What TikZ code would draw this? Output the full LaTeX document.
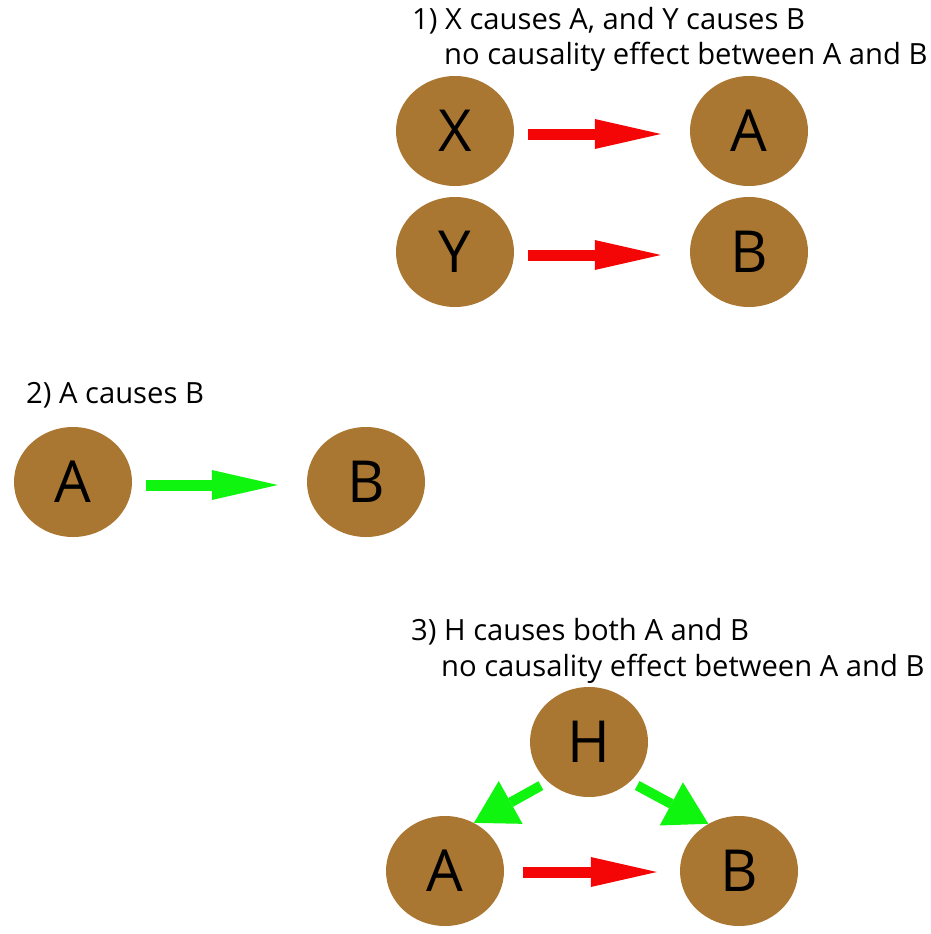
\documentclass[tikz,border=0pt]{standalone}
\usepackage{fontspec}
\setmainfont{Open Sans}
\usetikzlibrary{arrows.meta, shapes.geometric, positioning}
\definecolor{nbrown}{RGB}{170,119,51}
\definecolor{nred}{RGB}{245,6,6}
\definecolor{ngreen}{RGB}{16,245,16}
\tikzset{
  no/.style = {ellipse, fill=nbrown, text=black, inner sep=0pt,
    minimum width=118pt, minimum height=110pt,
    font=\fontsize{58}{60}\selectfont},
  leg/.style = {anchor=base west, inner sep=0pt,
    font=\fontsize{29.2}{34}\selectfont},
  rseta/.style = {-{Triangle[length=66pt, width=30pt, line width=0pt]},
    line width=11pt, draw=nred, shorten <=14pt, shorten >=29pt},
  gseta/.style = {-{Triangle[length=66pt, width=30pt, line width=0pt]},
    line width=11pt, draw=ngreen, shorten <=14pt, shorten >=29pt},
  gdiag/.style = {-{Triangle[length=42pt, width=49pt, line width=0pt]},
    line width=10pt, draw=ngreen, shorten <=8pt}
}

\begin{document}
\begin{tikzpicture}[x=1pt, y=-1pt]
  \useasboundingbox (0,0) rectangle (930,934);

  % 1) dois pares independentes
  \node [leg] (c1a) at (412,30) {1) X causes A, and Y causes B};
  \node [leg] (c1b) at (444,65) {no causality effect between A and B};
  \node [no] (x) at (455,131) {X};
  \node [no] (a1) at (749,131) {A};
  \node [no] (y) at (455,252) {Y};
  \node [no] (b1) at (749,252) {B};
  \draw [rseta] ([yshift=-3pt]x.east) -- ([yshift=-3pt]a1.west);
  \draw [rseta] ([yshift=-3pt]y.east) -- ([yshift=-3pt]b1.west);

  % 2) causa direta
  \node [leg] (c2) at (26,403) {2) A causes B};
  \node [no] (a2) at (73,482) {A};
  \node [no] (b2) at (366,482) {B};
  \draw [gseta] ([yshift=-3pt]a2.east) -- ([yshift=-3pt]b2.west);

  % 3) causa comum
  \node [leg] (c3a) at (411,640) {3) H causes both A and B};
  \node [leg] (c3b) at (441,676) {no causality effect between A and B};
  \node [no] (h) at (589,742) {H};
  \node [no] (a3) at (445,871) {A};
  \node [no] (b3) at (739,871) {B};
  \draw [gdiag] (h.224) -- (a3.59);
  \draw [gdiag] (h.316) -- (b3.123);
  \draw [rseta, shorten <=19pt, shorten >=23pt]
    ([yshift=-1pt]a3.east) -- ([yshift=-1pt]b3.west);
\end{tikzpicture}
\end{document}
